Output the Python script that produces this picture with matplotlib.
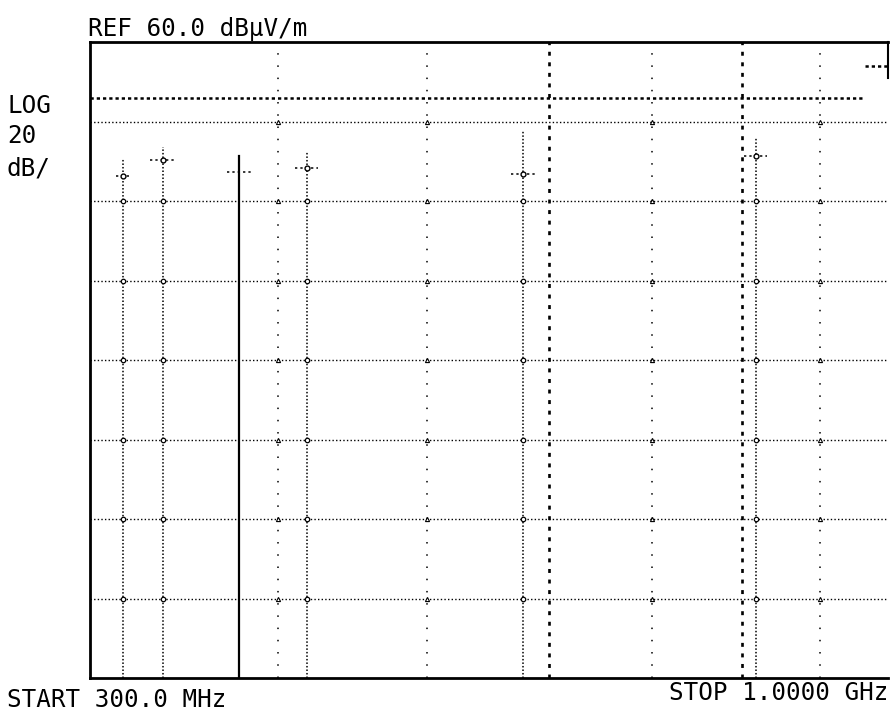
import matplotlib
matplotlib.use("Agg")
import matplotlib.pyplot as plt

# sweep settings
f_start = 300.0    # MHz
f_stop = 1000.0    # MHz
ref_level = 60.0   # dBuV/m
db_per_div = 20
n_div = 8

# emissions found in the sweep: frequency, trace peak, marker reading
sig_freq = [329, 364, 490, 680, 884]
sig_peak = [30.7, 33.7, 32.5, 37.5, 36.0]
sig_mark = [26.4, 30.2, 28.4, 26.9, 31.2]
sig_mark_width = [6, 11, 10, 11, 10]   # MHz half width of the marker bar

# the one emission drawn with a solid pen
solid_freq = 431
solid_peak = 31.4
solid_mark = 27.2

# band edge / marker lines
edge_freq = [465, 596, 793, 940]
edge_heavy_freq = [703, 872]

# limit line
limit_freq = [300, 978]
limit_level = [46, 46]
limit2_freq = [980, 1000]
limit2_level = [54, 54]

bottom = ref_level - n_div * db_per_div
grid_levels = [ref_level - db_per_div * i for i in range(1, n_div)]

W, H = 890, 712
fig = plt.figure(figsize=(W / 100, H / 100), dpi=100)
ax = fig.add_axes([90 / W, 1 - 678 / H, 798 / W, 636 / H])
ax.set_xlim(f_start, f_stop)
ax.set_ylim(bottom, ref_level)
ax.set_xticks([])
ax.set_yticks([])
for side in ["left", "bottom", "top"]:
    ax.spines[side].set_linewidth(2)
ax.spines["right"].set_visible(False)
ax.plot([f_stop, f_stop], [ref_level, ref_level - 9], color="black", lw=1.5,
        clip_on=False)

# horizontal graticule
for lv in grid_levels:
    ax.plot([f_start, f_stop], [lv, lv], color="black", lw=1.0,
            linestyle=(0, (1, 1.6)))

# limit lines
ax.plot(limit_freq, limit_level, color="black", lw=1.8, linestyle=(0, (1.3, 1.2)))
ax.plot(limit2_freq, limit2_level, color="black", lw=1.8, linestyle=(0, (1.3, 1.2)))

# band edges
for f in edge_freq:
    ax.plot([f, f], [bottom, ref_level], color="black", lw=1.1,
            linestyle=(0, (1, 7)))
    ax.plot([f] * len(grid_levels), grid_levels, linestyle="none", marker="^",
            ms=3, mfc="white", mec="black", mew=0.8)
for f in edge_heavy_freq:
    ax.plot([f, f], [bottom, ref_level], color="black", lw=1.9,
            linestyle=(0, (1.5, 2.5)))

# emissions
for f, pk, mk, hw in zip(sig_freq, sig_peak, sig_mark, sig_mark_width):
    ax.plot([f, f], [bottom, pk], color="black", lw=1.1, linestyle=(0, (1, 1.3)))
    ax.plot([f - hw, f + hw], [mk, mk], color="black", lw=1.1,
            linestyle=(0, (1.5, 2)))
    ax.plot([f], [mk], linestyle="none", marker="o", ms=3.5, mfc="white",
            mec="black", mew=1)
    below = [lv for lv in grid_levels if lv < mk]
    ax.plot([f] * len(below), below, linestyle="none", marker="o", ms=3.2,
            mfc="white", mec="black", mew=0.9)

ax.plot([solid_freq, solid_freq], [bottom, solid_peak], color="black", lw=1.6)
ax.plot([solid_freq - 11, solid_freq + 11], [solid_mark, solid_mark],
        color="black", lw=1.1, linestyle=(0, (1.5, 2)))

# annotation text
font = dict(family="DejaVu Sans Mono", fontsize=17.5, color="black")
fig.text(88 / W, 1 - 36 / H, "REF 60.0 dB\u00b5V/m", va="baseline", **font)
fig.text(7 / W, 1 - 113 / H, "LOG", va="baseline", **font)
fig.text(7 / W, 1 - 143 / H, "20", va="baseline", **font)
fig.text(7 / W, 1 - 175 / H, "dB/", va="baseline", **font)
fig.text(7 / W, 1 - 707 / H, "START 300.0 MHz", va="baseline", **font)
fig.text(888 / W, 1 - 700 / H, "STOP 1.0000 GHz", va="baseline", ha="right", **font)

fig.savefig("out.png", dpi=100)
